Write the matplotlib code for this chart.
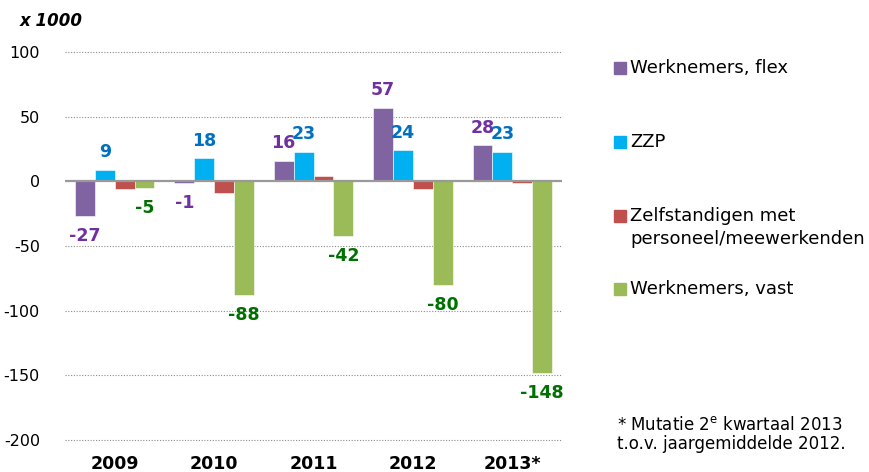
import matplotlib.pyplot as plt
import numpy as np
from matplotlib.patches import Rectangle

# values in thousands
years = ["2009", "2010", "2011", "2012", "2013*"]
flex = [-27, -1, 16, 57, 28]
zzp = [9, 18, 23, 24, 23]
zelfst = [-6, -9, 4, -6, -1]
vast = [-5, -88, -42, -80, -148]

series_names = ["Werknemers, flex", "ZZP",
                "Zelfstandigen met\npersoneel/meewerkenden", "Werknemers, vast"]
bar_colors = ["#8064A2", "#00B0F0", "#C0504D", "#9BBB59"]
label_colors = ["#7030A0", "#0070C0", None, "#007000"]
y_ticks = [100, 50, 0, -50, -100, -150, -200]

plt.rcParams["font.family"] = ["DejaVu Sans"]
FS = 11.5

fig = plt.figure(figsize=(8.69, 4.72), dpi=100)
ax = fig.add_axes([65 / 869, 1 - 440 / 472, (562 - 65) / 869, (440 - 52) / 472])

x = np.arange(len(years))
w = 0.2
all_series = [flex, zzp, zelfst, vast]
for i, vals in enumerate(all_series):
    pos = x + (i - 1.5) * w
    ax.bar(pos, vals, width=w, color=bar_colors[i], edgecolor="white",
           linewidth=0.4, zorder=3)
    if label_colors[i] is None:
        continue
    for px, v in zip(pos, vals):
        off = 12.5 if v > 0 else -14.5
        ax.annotate(str(v), (px, v), xytext=(0, off), textcoords="offset points",
                    ha="center", va="center", fontsize=12.5, fontweight="bold",
                    color=label_colors[i], zorder=4)

ax.set_xlim(-0.5, len(years) - 0.5)
ax.set_ylim(-200, 100)
ax.set_yticks(y_ticks)
ax.set_yticklabels([str(t) for t in y_ticks], fontsize=FS)
ax.set_xticks(x)
ax.set_xticklabels(years, fontsize=12.5, fontweight="bold")
ax.tick_params(axis="both", length=0)
ax.tick_params(axis="y", pad=18)
ax.tick_params(axis="x", pad=11)
for s in ax.spines.values():
    s.set_visible(False)
for t in y_ticks:
    if t != 0:
        ax.axhline(t, color="#8c8c8c", linestyle=(0, (1, 1.5)), linewidth=0.8,
                   zorder=1, clip_on=False)
ax.axhline(0, color="#999999", linewidth=1.6, zorder=4)

fig.text(20 / 869, 1 - 21 / 472, "x 1000", fontsize=12, fontweight="bold",
         fontstyle="italic", va="center", ha="left")

# legend, placed by hand to match spacing
leg_y = [68, 142, 216, 289]
for name, col, yy in zip(series_names, bar_colors, leg_y):
    fig.patches.append(Rectangle((614 / 869, 1 - (yy + 6) / 472), 12 / 869, 12 / 472,
                                 transform=fig.transFigure, color=col))
    fig.text(630 / 869, 1 - yy / 472, name.split("\n")[0], fontsize=13,
             va="center", ha="left")
    if "\n" in name:
        fig.text(630 / 869, 1 - (yy + 23) / 472, name.split("\n")[1],
                 fontsize=13, va="center", ha="left")

fig.text(617 / 869, 1 - 425 / 472, "* Mutatie 2$^{\\mathrm{e}}$ kwartaal 2013",
         fontsize=12, va="center", ha="left")
fig.text(617 / 869, 1 - 444 / 472, "t.o.v. jaargemiddelde 2012.",
         fontsize=12, va="center", ha="left")

fig.savefig("out.png", dpi=100)
